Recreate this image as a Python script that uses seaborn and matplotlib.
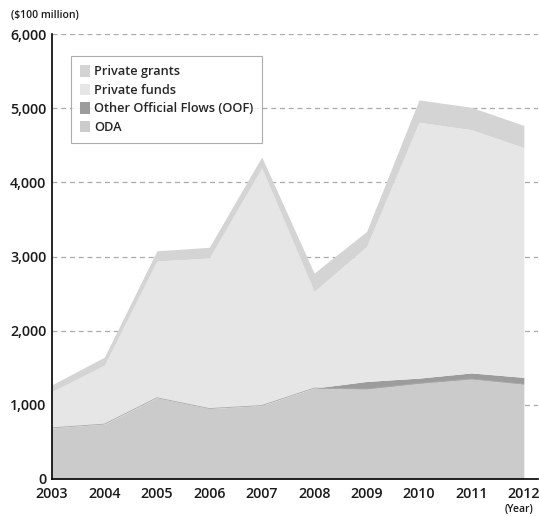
import matplotlib
matplotlib.use("Agg")
import matplotlib.pyplot as plt
import seaborn as sns
from matplotlib.patches import Patch

# Data ($100 million)
years = [2003, 2004, 2005, 2006, 2007, 2008, 2009, 2010, 2011, 2012]
oda = [690, 740, 1095, 950, 990, 1225, 1215, 1290, 1350, 1280]
oof = [0, 0, 0, 0, 0, 0, 100, 70, 80, 90]
private_funds = [490, 795, 1845, 2030, 3205, 1305, 1820, 3450, 3280, 3100]
private_grants = [90, 108, 137, 144, 148, 246, 203, 301, 302, 297]

labels = ["ODA", "Other Official Flows (OOF)", "Private funds", "Private grants"]
colors = ["#cbcbcb", "#9c9c9c", "#e6e6e6", "#d4d4d4"]

sns.set_style("white")
plt.rcParams['font.family'] = ['Open Sans', 'DejaVu Sans']
plt.rcParams['font.weight'] = 'semibold'

fig = plt.figure(figsize=(5.39, 5.16), dpi=100)
ax = fig.add_axes([52 / 539, 1 - 479 / 516, 486 / 539, 445 / 516])

ax.stackplot(years, oda, oof, private_funds, private_grants,
             colors=colors, linewidth=0, zorder=2)
# thin line on top of ODA
ax.plot(years, oda, color="#aaaaaa", linewidth=0.6, zorder=3)

ax.set_xlim(2003, 2012.27)
ax.set_ylim(0, 6000)
ax.set_xticks(years)
ax.set_xticklabels([str(y) for y in years])
ax.set_yticks(range(0, 6001, 1000))
ax.set_yticklabels([f"{v:,}" for v in range(0, 6001, 1000)])
ax.tick_params(axis="both", length=0, labelsize=10.3, colors="#1a1a1a")
ax.tick_params(axis="x", pad=6)
ax.tick_params(axis="y", pad=4)

ax.yaxis.grid(True, linestyle=(0, (4, 3)), color="#aaaaaa", linewidth=0.9)
ax.set_axisbelow(True)
for g in ax.get_ygridlines():
    g.set_zorder(2.5)

sns.despine(ax=ax, top=True, right=True)
ax.spines["left"].set_color("black")
ax.spines["bottom"].set_color("black")
ax.spines["left"].set_linewidth(1.2)
ax.spines["bottom"].set_linewidth(1.2)
ax.spines["left"].set_zorder(4)
ax.spines["bottom"].set_zorder(4)

handles = [Patch(facecolor=colors[i], edgecolor="none") for i in [3, 2, 1, 0]]
leg = ax.legend(handles, [labels[i] for i in [3, 2, 1, 0]],
                loc="upper left", bbox_to_anchor=(0.04, 0.95),
                prop={"size": 9.2, "weight": "semibold"},
                frameon=True, fancybox=False,
                edgecolor="#999999", handlelength=0.75, handleheight=1.0,
                handletextpad=0.3, labelspacing=0.42, borderpad=0.7,
                borderaxespad=0)
leg.get_frame().set_linewidth(0.8)
leg.set_zorder(5)

fig.text(11 / 539, 1 - 16 / 516, "($100 million)", fontsize=7.5,
         ha="left", va="center", color="#1a1a1a")
fig.text(533 / 539, 1 - 509 / 516, "(Year)", fontsize=7.5,
         ha="right", va="center", color="#1a1a1a")

fig.savefig("out.png", dpi=100)
